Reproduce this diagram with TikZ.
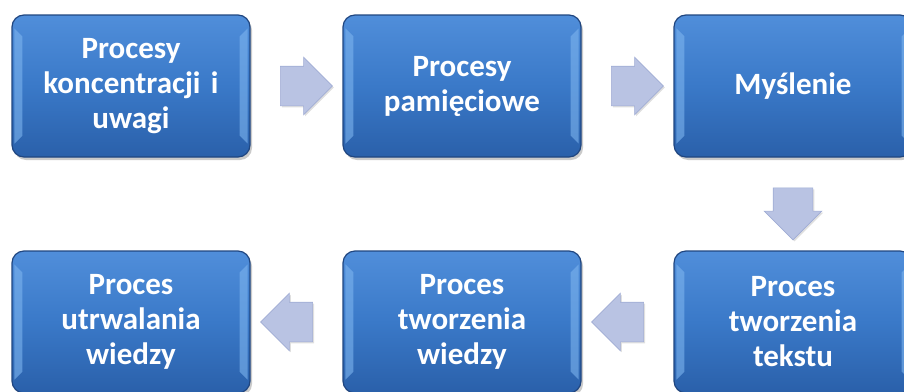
\documentclass[tikz,border=0pt]{standalone}
\usepackage{fontspec}
\setmainfont{Carlito}
\usetikzlibrary{shapes.arrows,calc,shadows}
\definecolor{boxmid}{RGB}{58,121,200}
\definecolor{boxtop}{RGB}{80,142,218}
\definecolor{boxbot}{RGB}{42,96,170}
\definecolor{boxedge}{RGB}{32,70,128}
\definecolor{bevel}{RGB}{125,180,238}
\definecolor{arrfill}{RGB}{185,195,227}
\definecolor{arredge}{RGB}{160,172,212}
\tikzset{
  procbox/.style={draw=boxedge, line width=1.2pt, rounded corners=12pt,
    top color=boxtop, bottom color=boxbot, middle color=boxmid,
    minimum width=238pt, minimum height=142pt, text width=210pt, align=center,
    text=white, font=\fontsize{31}{35}\selectfont\bfseries,
    drop shadow={shadow xshift=2pt, shadow yshift=-3pt, opacity=0.35, fill=black!60}},
  blockarr/.style={single arrow, draw=arredge, fill=arrfill, line width=0.6pt,
    minimum height=52pt, single arrow head extend=9pt, inner xsep=0pt, inner ysep=19.5pt,
    drop shadow={shadow xshift=1.5pt, shadow yshift=-1.5pt, opacity=0.25}}
}
\begin{document}
\begin{tikzpicture}[x=1pt,y=-1pt]
\useasboundingbox (0,0) rectangle (904,391);
\node[procbox] (b1) at (131,86) {Procesy\\koncentracji i\\uwagi};
\node[procbox] (b2) at (462,86) {Procesy\\pamięciowe};
\node[procbox] (b3) at (793,86) {Myślenie};
\node[procbox] (b4) at (793,322) {Proces\\tworzenia\\tekstu};
\node[procbox] (b5) at (462,322) {Proces\\tworzenia\\wiedzy};
\node[procbox] (b6) at (131,322) {Proces\\utrwalania\\wiedzy};
% bevel highlights
\foreach \b in {b1,b2,b3,b4,b5,b6}{
  \fill[bevel, opacity=0.6] ([shift={(3,14)}]\b.north west) -- ([shift={(11,22)}]\b.north west)
     -- ([shift={(11,-22)}]\b.south west) -- ([shift={(3,-14)}]\b.south west) -- cycle;
  \fill[bevel, opacity=0.6] ([shift={(-3,14)}]\b.north east) -- ([shift={(-11,22)}]\b.north east)
     -- ([shift={(-11,-22)}]\b.south east) -- ([shift={(-3,-14)}]\b.south east) -- cycle;
}
\node[blockarr] (a1) at ($(b1.east)!0.5!(b2.west)$) {};
\node[blockarr] (a2) at ($(b2.east)!0.5!(b3.west)$) {};
\node[blockarr, rotate=-90] (a3) at ($(b3.south)!0.5!(b4.north)$) {};
\node[blockarr, shape border rotate=180] (a4) at ($(b4.west)!0.5!(b5.east)$) {};
\node[blockarr, shape border rotate=180] (a5) at ($(b5.west)!0.5!(b6.east)$) {};
\end{tikzpicture}
\end{document}
